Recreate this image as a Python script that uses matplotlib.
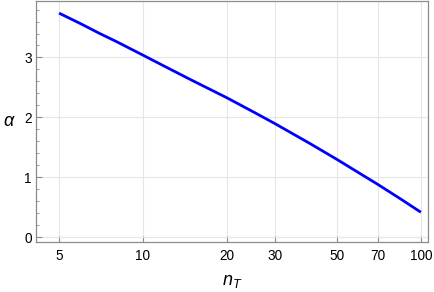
import matplotlib.pyplot as plt
from matplotlib.ticker import FixedLocator, NullLocator, MultipleLocator

plt.rcParams["font.family"] = ["Liberation Sans", "DejaVu Sans"]
plt.rcParams["mathtext.fontset"] = "custom"
plt.rcParams["mathtext.it"] = "Liberation Sans:italic"
plt.rcParams["mathtext.rm"] = "Liberation Sans"

# values
n_T = [5, 6, 7, 8, 10, 12, 15, 20, 25, 30, 40, 50, 60, 70, 85, 100]
alpha = [3.74, 3.56, 3.40, 3.27, 3.04, 2.85, 2.62, 2.33, 2.09, 1.89,
         1.56, 1.295, 1.07, 0.88, 0.63, 0.415]

x_ticks = [5, 10, 20, 30, 50, 70, 100]
y_ticks = [0, 1, 2, 3]

frame = "#8c8c8c"
grid = "#e6e6e6"

fig = plt.figure(figsize=(4.34, 2.92), dpi=100)
ax = fig.add_axes([0.083, 0.171, 0.903, 0.827])

ax.plot(n_T, alpha, color="#0000ff", lw=2.0, solid_capstyle="butt")

ax.set_xscale("log")
ax.set_xlim(4.13, 106)
ax.set_ylim(-0.083, 3.95)

ax.xaxis.set_major_locator(FixedLocator(x_ticks))
ax.xaxis.set_minor_locator(NullLocator())
ax.set_xticklabels([str(t) for t in x_ticks])
ax.yaxis.set_major_locator(FixedLocator(y_ticks))
ax.yaxis.set_minor_locator(MultipleLocator(0.2))

ax.grid(True, which="major", color=grid, lw=0.8)
ax.set_axisbelow(True)

for s in ax.spines.values():
    s.set_color(frame)
    s.set_linewidth(0.9)

ax.tick_params(which="major", direction="in", length=4, width=0.8,
               color=frame, labelsize=9.8, labelcolor="black", pad=5)
ax.tick_params(which="minor", direction="in", length=2.2, width=0.6, color=frame)
ax.tick_params(axis="y", pad=3)

ax.set_xlabel(r"$n_T$", fontsize=13, labelpad=7)
ax.set_ylabel(r"$\alpha$", fontsize=13, rotation=0, labelpad=11, va="center")

fig.savefig("out.png", dpi=100)
